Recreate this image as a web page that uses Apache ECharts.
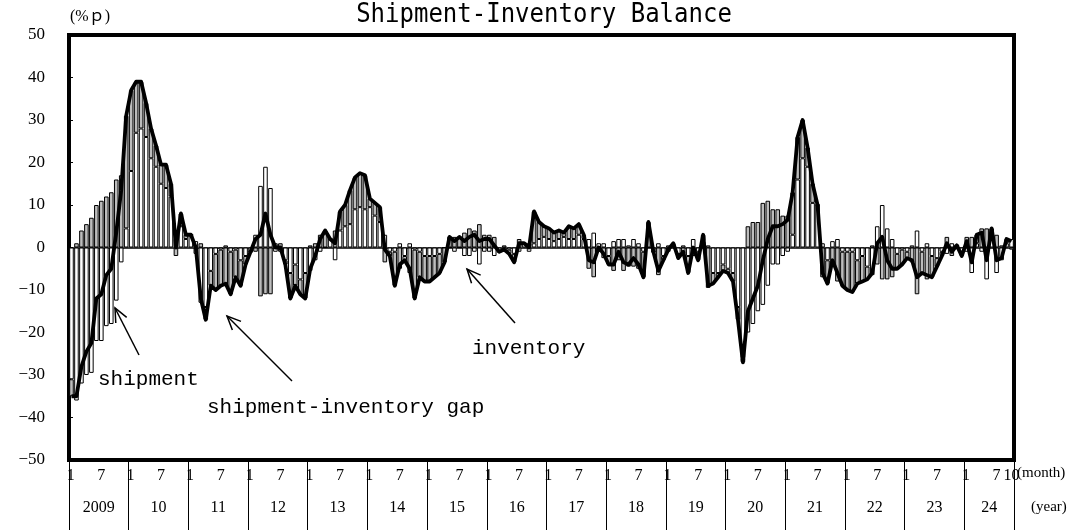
<!DOCTYPE html>
<html lang="en">
<head>
    <meta charset="UTF-8">
    <script src="https://cdn.jsdelivr.net/npm/echarts@6/dist/echarts.min.js"></script>
    <style>
        html, body { margin: 0; padding: 0; background: #fff; }
        #chart { width: 1088px; height: 530px; }
    </style>
</head>
<body>
    <div id="chart"></div>
    <script>
        // years on the axis (2024 runs to October)
        var years = ['2009','10','11','12','13','14','15','16','17','18','19','20','21','22','23','24'];
        var monthsInYear = [12,12,12,12,12,12,12,12,12,12,12,12,12,12,12,10];

        // shipment, y/y % (white bars)
        var shipment = [
            -31, -36, -32, -30, -29.5, -22, -22, -18.5, -18, -12.5, -3.5, 4.5,
            18, 27, 28, 26, 21, 19, 15, 14, 12, 2, 5, 2,
            3, 1.5, -13, -14, -5.5, -1.5, -0.5, 0.5, -1, -0.5, -3, -2,
            -1, 3, 14.5, 19, 14, -1, -1, -3, -6, -4, -7.5, -6,
            -5.5, -3, -1, 0, 2, -3, 4, 5, 5.5, 9, 9.5, 9,
            9.5, 7.5, 6, 3, -1, -1, 1, -2, 1, -0.5, -1, -2,
            -2, -2, -1.5, 0, 0, -1, 0, -2, -2, -1, -4, -1,
            -1, -2, -1, -1, -0.5, -1.5, -1, 1, -1, 1, 2, 2.5,
            2, 1.5, 2, 2.5, 2, 2, 3, 2, 2, 3.5, 1, 1,
            -2, 1.5, 2, 2, 0.5, 2, 1, -1, 0, -1, 1, -2,
            -1, 0.5, -1.5, 0.5, -2, 2, -1, 1.5, 0.5, -6, -6, -4,
            -5, -6, -14, -26, -20, -18, -15, -13.5, -9, -4, -4, -2,
            -1, 3, 16, 21, 19, 10.5, 10, 1, -3, 1.5, 2, -1,
            -1, -1, -3, -2, -4.5, -6.5, 5, 10, 4.5, 2, -1.5, -0.5,
            -1, 0.5, 4, -1, 1, -2, -2.5, -1, -1.5, 1, 0.5, -1,
            -1, -6, 1, -1, -7.5, 2, -6, -3, 1, 2
        ];

        // inventory, y/y % (gray bars are drawn with reversed sign)
        var inventory = [
            4, -1, -4, -5.5, -7, -10, -11, -12, -13, -16, -17, -26.5,
            -19, -12, -11, -8, -7, -5, -4.5, -5.5, -3, 2, -3, -1,
            0, 1.5, -1, 3, 3.5, 8.5, 8.5, 9, 10, 6.5, 6, 2,
            0, 1, 11.5, 11, 11, -1, -1, 1, 6, 5, 3.5, 6,
            -0.5, -1, -3, -4, 0, -4, -4.5, -5, -8, -7.5, -8, -8,
            -2, -3, -3.5, 3.5, 1, 8, 5, 1, 6, 11.5, 6, 6,
            6, 5, 4.5, 3.5, -2.5, -2.5, -2.5, -3.5, -4.5, -4, -5.5, -3,
            -3, -2.5, 0, -0.5, 1, 2, -2, 0, -1, -7.5, -4, -2.5,
            -2.5, -2, -2, -1, -3, -2.5, -2.5, -1, 5, 7, 1, 2.5,
            2, 5.5, 3, 5.5, 4.5, 4.5, 5, 6, -6, 0, 6.5, 1,
            -0.5, -0.5, 1, 1.5, 4, 2, 2, -1.5, 9.5, 2.5, 1, 1.5,
            1, 2, 3, 1, -5, -6, -6, -10.5, -11, -9, -9, -7.5,
            -7.5, -10, -10, -9, -4.5, -4.5, 0, 7, 5.5, 4.5, 8, 8,
            9, 9.5, 5.5, 6, 3, -0.5, 4, 7.5, 7.5, 7, 3.5, 3.5,
            1.5, 3.5, 11, 5, 7.5, 5, 2, 1, -2.5, 2, 0, 1,
            -2.5, -2.5, -2, -4.5, -4.5, -2.5, -3, -0.5, -1, 0.5
        ];

        // shipment-inventory gap (line)
        var balance = [
            -35, -35, -28, -24.5, -22.5, -12, -11, -6.5, -5, 3.5, 13.5, 31,
            37, 39, 39, 34, 28, 24, 19.5, 19.5, 15, 0, 8, 3,
            3, 0, -12, -17, -9, -10, -9, -8.5, -11, -7, -9, -4,
            -1, 2, 3, 8, 3, 0, 0, -4, -12, -9, -11, -12,
            -5, -2, 2, 4, 2, 1, 8.5, 10, 13.5, 16.5, 17.5, 17,
            11.5, 10.5, 9.5, -0.5, -2, -9, -4, -3, -5, -12, -7, -8,
            -8, -7, -6, -3.5, 2.5, 1.5, 2.5, 1.5, 2.5, 3, 1.5, 2,
            2, 0.5, -1, -0.5, -1.5, -3.5, 1, 1, 0, 8.5, 6, 5,
            4.5, 3.5, 4, 3.5, 5, 4.5, 5.5, 3, -3, -3.5, 0, -1.5,
            -4, -4, -1, -3.5, -4, -2.5, -4, -7, 6, -1, -5.5, -3,
            -0.5, 1, -2.5, -1, -6, 0, -3, 3, -9, -8.5, -7, -5.5,
            -6, -8, -17, -27, -15, -12, -9, -3, 2, 5, 5, 5.5,
            6.5, 13, 26, 30, 23.5, 15, 10, -6, -8.5, -3, -6, -9,
            -10, -10.5, -8.5, -8, -7.5, -6, 1, 2.5, -3, -5, -5, -4,
            -2.5, -3, -7, -6, -6.5, -7, -4.5, -2, 1, -1, 0.5, -2,
            1.5, -3.5, 3, 3.5, -3, 4.5, -3, -2.5, 2, 1.5
        ];

        // build month categories and the positions of the axis table
        var months = [], yearStart = [], yearMid = [], monthMarks = [];
        var pos = 0;
        for (var y = 0; y < years.length; y++) {
            yearStart.push(pos);
            yearMid.push(pos + monthsInYear[y] / 2);
            for (var m = 1; m <= monthsInYear[y]; m++) {
                months.push(years[y] + '-' + m);
            }
            monthMarks.push(pos + 0.35);
            if (monthsInYear[y] >= 7) monthMarks.push(pos + 6.5);
            pos += monthsInYear[y];
        }
        yearStart.push(pos);
        monthMarks.push(pos - 0.5);
        var total = pos;

        function monthLabel(v) {
            if (Math.abs(v - (total - 0.5)) < 0.01) return String(monthsInYear[monthsInYear.length - 1]);
            var r = v % 12;
            return r < 1 ? '1' : '7';
        }
        function yearLabel(v) {
            var i = yearMid.findIndex(function (c) { return Math.abs(c - v) < 0.01; });
            return i >= 0 ? years[i] : '';
        }

        function arrow(x1, y1, x2, y2) {
            var a = Math.atan2(y2 - y1, x2 - x1), L = 15, s = 0.42;
            return [
                { type: 'line', shape: { x1: x1, y1: y1, x2: x2, y2: y2 }, style: { stroke: '#000', lineWidth: 1.5 } },
                { type: 'polyline', shape: { points: [
                    [x2 - L * Math.cos(a - s), y2 - L * Math.sin(a - s)],
                    [x2, y2],
                    [x2 - L * Math.cos(a + s), y2 - L * Math.sin(a + s)]
                ] }, style: { stroke: '#000', lineWidth: 1.5, fill: null } }
            ];
        }

        var monoFont = '"Liberation Mono", "DejaVu Sans Mono", monospace';
        var serifFont = '"Liberation Serif", "DejaVu Serif", serif';

        var graphics = [
            { type: 'text', left: 'center', top: 2, style: { text: 'Shipment-Inventory Balance', font: '24px "DejaVu Sans Mono", monospace', fill: '#000' }, scaleY: 1.1 },
            { type: 'text', x: 70, y: 9, style: { text: '(%ｐ)', font: '16px ' + serifFont + ', "Noto Sans CJK JP"', fill: '#000' } },
            { type: 'text', x: 98, y: 369, style: { text: 'shipment', font: '21px ' + monoFont, fill: '#000' } },
            { type: 'text', x: 207, y: 397, style: { text: 'shipment-inventory gap', font: '21px ' + monoFont, fill: '#000' } },
            { type: 'text', x: 472, y: 338, style: { text: 'inventory', font: '21px ' + monoFont, fill: '#000' } },
            { type: 'text', x: 1017, y: 466, style: { text: '(month)', font: '15px ' + serifFont, fill: '#000' } },
            { type: 'text', x: 1031, y: 500, style: { text: '(year)', font: '15px ' + serifFont, fill: '#000' } }
        ].concat(arrow(139, 355, 115, 308), arrow(292, 381, 227, 316), arrow(515, 323, 467, 269));

        var chart = echarts.init(document.getElementById('chart'));
        chart.setOption({
            animation: false,
            backgroundColor: '#fff',
            grid: {
                left: 69, right: 74, top: 35, bottom: 70,
                show: true, borderColor: '#000', borderWidth: 4
            },
            xAxis: [{
                type: 'category',
                data: months,
                axisLine: { onZero: true, lineStyle: { color: '#000', width: 1.5 } },
                axisTick: { show: false },
                axisLabel: { show: false },
                splitLine: { show: false }
            }, {
                type: 'value',
                min: 0, max: total,
                position: 'bottom', offset: 0,
                axisLine: { show: false, onZero: false },
                splitLine: { show: false },
                axisTick: { show: true, customValues: yearStart, length: 70, lineStyle: { color: '#000', width: 1 } },
                axisLabel: {
                    customValues: monthMarks, formatter: monthLabel, margin: 8,
                    color: '#000', fontFamily: serifFont, fontSize: 16
                }
            }, {
                type: 'value',
                min: 0, max: total,
                position: 'bottom', offset: 0,
                axisLine: { show: false, onZero: false },
                splitLine: { show: false },
                axisTick: { show: false },
                axisLabel: {
                    customValues: yearMid, formatter: yearLabel, margin: 40,
                    color: '#000', fontFamily: serifFont, fontSize: 16
                }
            }],
            yAxis: {
                type: 'value',
                min: -50, max: 50, interval: 10,
                axisLine: { show: false },
                axisTick: { show: true, inside: true, length: 4, lineStyle: { color: '#000' } },
                splitLine: { show: false },
                axisLabel: {
                    color: '#000', fontFamily: serifFont, fontSize: 17, margin: 24,
                    formatter: function (v) { return String(v).replace('-', '\u2212'); }
                }
            },
            series: [{
                name: 'shipment',
                type: 'bar',
                stack: 'bal',
                data: shipment,
                barCategoryGap: '8%',
                itemStyle: { color: '#fff', borderColor: '#000', borderWidth: 1 }
            }, {
                name: 'inventory',
                type: 'bar',
                stack: 'bal',
                data: inventory.map(function (v) { return -v; }),
                itemStyle: { color: '#bdbdbd', borderColor: '#000', borderWidth: 1 }
            }, {
                name: 'shipment-inventory gap',
                type: 'line',
                data: balance,
                symbol: 'none',
                z: 5,
                lineStyle: { color: '#000', width: 3.8, join: 'round' }
            }],
            graphic: graphics
        });
    </script>
</body>
</html>
